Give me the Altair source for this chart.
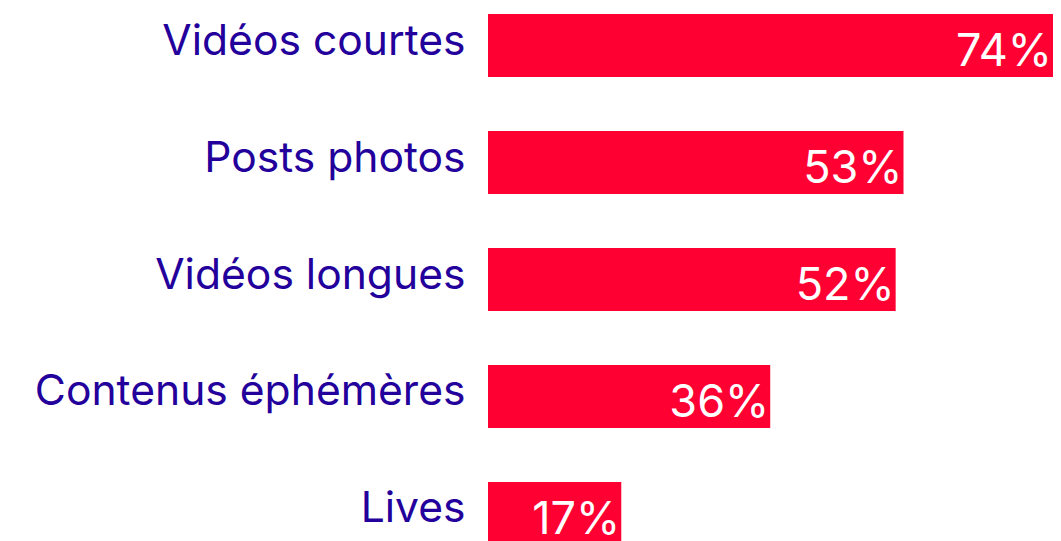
import altair as alt
import pandas as pd

categories = ["Vidéos courtes", "Posts photos", "Vidéos longues", "Contenus éphémères", "Lives"]
values = [74, 53, 52, 36, 17]
labels = ["74%", "53%", "52%", "36%", "17%"]

df = pd.DataFrame({"cat": categories, "val": values, "lab": labels})

y_enc = alt.Y(
    "cat:N",
    sort=None,
    title=None,
    scale=alt.Scale(range=[6, 537], paddingInner=0.4615, paddingOuter=0),
    axis=alt.Axis(
        labelFont="Inter",
        labelFontSize=42.6,
        labelColor="#23009B",
        labelPadding=23,
        domain=False,
        ticks=False,
        grid=False,
        labelLimit=0,
        labelBaseline="alphabetic",
        labelOffset=9,
    ),
)
x_enc = alt.X("val:Q", axis=None,
              scale=alt.Scale(domain=[0, 72.07], nice=False, zero=True, clamp=True))

bars = alt.Chart(df).mark_bar(color="#FF0033").encode(x=x_enc, y=y_enc)
texts = alt.Chart(df).mark_text(
    align="right", baseline="alphabetic", dx=-1, dy=20.5,
    font="Inter", fontSize=45, color="white",
).encode(x=x_enc, y=y_enc, text="lab:N")

chart = alt.layer(bars, texts).properties(
    width=565, height=533,
    autosize=alt.AutoSizeParams(type="none"),
    padding={"left": 480, "top": 0, "right": 0, "bottom": 0},
).configure_view(stroke=None)

chart.save("out.html", embed_options={"renderer": "svg", "actions": False})
